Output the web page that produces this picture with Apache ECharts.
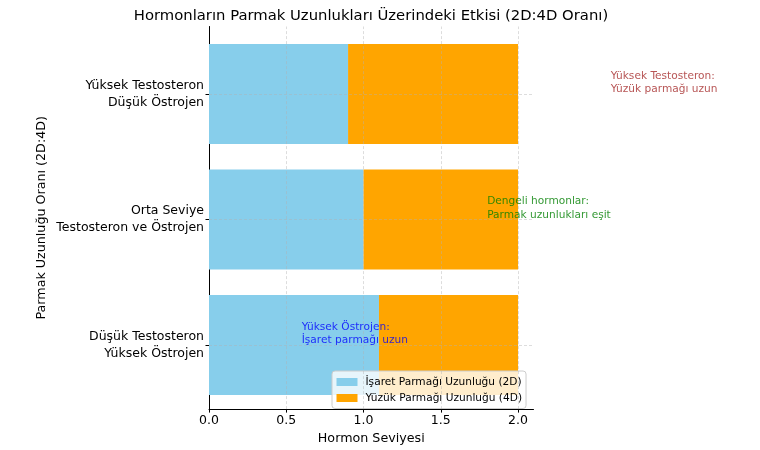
<!DOCTYPE html>
<html>
<head>
<meta charset="utf-8">
<script src="https://cdn.jsdelivr.net/npm/echarts@6/dist/echarts.min.js"></script>
<style>html,body{margin:0;padding:0;background:#fff}#c{width:760px;height:450px}</style>
</head>
<body>
<div id="c"></div>
<script>
var categories = ["Düşük Testosteron\nYüksek Östrojen", "Orta Seviye\nTestosteron ve Östrojen", "Yüksek Testosteron\nDüşük Östrojen"];
var index2D = [1.1, 1.0, 0.9];
var ring4D = [0.9, 1.0, 1.1];
var xTicks = [0, 0.5, 1.0, 1.5, 2.0];
var annotX = [0.6, 1.8, 2.6];
var annotTexts = ["Yüksek Östrojen:\nİşaret parmağı uzun", "Dengeli hormonlar:\nParmak uzunlukları eşit", "Yüksek Testosteron:\nYüzük parmağı uzun"];
var annotColors = ["#0000ff", "#008000", "#a52a2a"];

var FONT = "DejaVu Sans";
var chart = echarts.init(document.getElementById('c'), null, {renderer: 'canvas'});
var gridColor = 'rgba(176,176,176,0.55)';

var option = {
  animation: false,
  textStyle: {fontFamily: FONT},
  title: {
    text: "Hormonların Parmak Uzunlukları Üzerindeki Etkisi (2D:4D Oranı)",
    left: 371, top: 9, textAlign: 'center', padding: 0,
    textStyle: {fontFamily: FONT, fontSize: 14.8, fontWeight: 'normal', color: '#000'}
  },
  legend: {
    orient: 'vertical', left: 332, top: 371,
    backgroundColor: 'rgba(255,255,255,0.8)', borderColor: '#cccccc', borderWidth: 1, borderRadius: 3,
    padding: [5.5, 4, 5, 4.5], itemWidth: 21, itemHeight: 8, itemGap: 5,
    icon: 'rect',
    textStyle: {fontFamily: FONT, fontSize: 10.6, color: '#000', padding: [0, 0, 0, 3]},
    data: ["İşaret Parmağı Uzunluğu (2D)", "Yüzük Parmağı Uzunluğu (4D)"]
  },
  grid: [
    {left: 209, right: 226.5, top: 26.5, bottom: 37.5},
    {left: 209, right: 226.5, top: 31.25, bottom: 42.25}
  ],
  xAxis: [
    {
      type: 'value', gridIndex: 0, min: 0, max: 2.1,
      name: 'Hormon Seviyesi', nameLocation: 'middle', nameGap: 21,
      nameTextStyle: {fontFamily: FONT, fontSize: 12.7, color: '#000'},
      axisLine: {show: true, lineStyle: {color: '#000', width: 1}},
      axisTick: {show: true, length: 3.5, lineStyle: {color: '#000'}, customValues: xTicks},
      axisLabel: {show: true, margin: 5, fontFamily: FONT, fontSize: 12.5, color: '#000',
        customValues: xTicks, formatter: function (v) { return v.toFixed(1); }},
      splitLine: {show: false}
    },
    {
      type: 'value', gridIndex: 1, min: 0, max: 2.1, show: false
    }
  ],
  yAxis: [
    {
      type: 'value', gridIndex: 0, min: 0, max: 1,
      name: 'Parmak Uzunluğu Oranı (2D:4D)', nameLocation: 'middle', nameGap: 161,
      nameTextStyle: {fontFamily: FONT, fontSize: 12.7, color: '#000'},
      axisLine: {show: true, lineStyle: {color: '#000', width: 1}},
      axisTick: {show: false}, axisLabel: {show: false}, splitLine: {show: false}
    },
    {
      type: 'category', gridIndex: 1, data: categories,
      axisLine: {show: false},
      axisTick: {show: true, alignWithLabel: true, length: 3.5, lineStyle: {color: '#000'}},
      axisLabel: {margin: 5, fontFamily: FONT, fontSize: 12.5, lineHeight: 17, color: '#000', align: 'right'},
      splitLine: {show: false}
    }
  ],
  series: [
    {
      type: 'line', xAxisIndex: 0, yAxisIndex: 0, data: [], silent: true, z: 0,
      markLine: {
        silent: true, symbol: 'none', label: {show: false},
        lineStyle: {type: [3, 2], color: gridColor, width: 0.8},
        data: xTicks.filter(function (t) { return t > 0; }).map(function (t) { return {xAxis: t}; })
      }
    },
    {
      type: 'line', xAxisIndex: 1, yAxisIndex: 1, data: [], silent: true, z: 0,
      markLine: {
        silent: true, symbol: 'none', label: {show: false},
        lineStyle: {type: [3, 2], color: gridColor, width: 0.8},
        data: categories.map(function (c) { return {yAxis: c}; })
      }
    },
    {
      name: "İşaret Parmağı Uzunluğu (2D)", type: 'bar', stack: 'total',
      xAxisIndex: 1, yAxisIndex: 1, barWidth: 100, z: 2,
      itemStyle: {color: '#87ceeb'}, data: index2D
    },
    {
      name: "Yüzük Parmağı Uzunluğu (4D)", type: 'bar', stack: 'total',
      xAxisIndex: 1, yAxisIndex: 1, barWidth: 100, z: 2,
      itemStyle: {color: '#ffa500'}, data: ring4D
    },
    {
      type: 'scatter', xAxisIndex: 1, yAxisIndex: 1, symbolSize: 0, clip: false, silent: true, z: 5,
      data: annotX.map(function (x, i) {
        return {
          value: [x, categories[i]],
          label: {
            show: true, formatter: annotTexts[i], position: [0, 0], offset: [0, 2],
            align: 'left', verticalAlign: 'bottom',
            fontFamily: FONT, fontSize: 10.6, lineHeight: 13.5, color: annotColors[i]
          }
        };
      })
    }
  ]
};
chart.setOption(option);
</script>
</body>
</html>
